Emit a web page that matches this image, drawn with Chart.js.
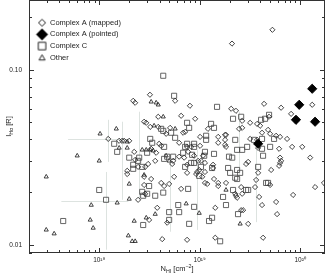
<!DOCTYPE html>
<html><head><meta charset="utf-8">
<script src="https://cdn.jsdelivr.net/npm/chart.js@4/dist/chart.umd.min.js"></script>
<style>html,body{margin:0;padding:0;background:#fff;}canvas{display:block;}</style>
</head><body>
<canvas id="c" width="326" height="275"></canvas>
<script>
const seriesNames = ['Complex A (mapped)', 'Complex A (pointed)', 'Complex C', 'Other'];

const complexAPointed = [[1.32e20,0.0779],[9.8e19,0.0631],[9.1e19,0.0518],[1.41e20,0.0505],[3.82e19,0.0378]];

const complexAMapped = [
[5.3e19,0.169],[2.1e19,0.141],[3.2e18,0.072],[5.7e18,0.0665],[8.0e18,0.0623],[2.06e19,0.0599],[2.3e19,0.0583],[4.38e19,0.0639],[6.47e19,0.0607],[8.14e19,0.056],[1.32e20,0.0631],[6.54e18,0.0546],[9.02e18,0.0525],[2.65e19,0.0511],[3.18e19,0.0498],[3.73e19,0.0491],[4.0e19,0.0479],[4.91e19,0.0539],[2.47e19,0.046],[2.65e19,0.0466],[4.18e19,0.0437],[4.8e19,0.0454],[5.03e19,0.0431],[5.77e19,0.042],[6.32e19,0.0414],[7.42e19,0.0403],[1.83e19,0.0425],[1.83e19,0.0363],[3.18e19,0.0403],[3.73e19,0.0398],[3.82e19,0.0358],[6.18e19,0.0354],[8.33e19,0.0363],[1.05e20,0.0363],[6.32e19,0.0315],[1.26e20,0.0315],[2.9e19,0.029],[3.04e19,0.0298],[6.47e19,0.0302],[6.32e19,0.0294],[6.18e19,0.0283],[3.82e19,0.0258],[5.15e19,0.0268],
[2.18e18,0.0665],[2.28e18,0.0648],[3.87e18,0.0539],[2.8e18,0.0505],[2.94e18,0.0498],[3.22e18,0.0472],[3.87e18,0.0472],[5.08e18,0.0466],[7.17e18,0.0442],[6.85e18,0.0437],[4.64e18,0.0431],[1.21e19,0.046],[1.01e19,0.0414],[1.53e19,0.0414],[1.79e19,0.0425],[1.79e19,0.0398],[1.79e19,0.0373],[1.53e19,0.0383],[3.95e18,0.0378],[4.14e18,0.0368],[6.25e18,0.0383],[7.5e18,0.0363],[8.23e18,0.0363],[1.01e19,0.0368],[3.29e18,0.0354],[1.99e18,0.0393],[3.69e18,0.0336],[7.68e18,0.034],[8.81e18,0.0323],[1.08e19,0.0323],[2.28e18,0.0306],[5.45e18,0.0302],[5.33e18,0.029],[6.25e18,0.0319],[7.01e18,0.0315],[9.66e18,0.0302],[1.03e19,0.0302],[1.13e19,0.0294],[9.9e18,0.0268],[9.44e18,0.0261],[1.13e19,0.0261],[1.36e19,0.0287],[1.36e19,0.0275],[3.61e18,0.0302],[3.07e18,0.029],[2.87e18,0.0279],
[1.23e18,0.0403],[1.58e18,0.0393],[1.69e18,0.0393],[1.77e18,0.0393],[2.23e18,0.034],[1.9e18,0.0265],[1.9e18,0.0254],[2.44e18,0.0279],[3.29e18,0.0238],[4.14e18,0.0226],[2.8e18,0.022],[2.87e18,0.0196],[2.44e18,0.0181],[3.78e18,0.0163],[3.14e18,0.0139],[4.24e18,0.0108],[2.8e18,0.0245],[4.75e18,0.0134],[7.5e18,0.0107],[1.43e19,0.0163],[1.43e19,0.011],[6.54e18,0.0209],[4.97e18,0.0223],[5.57e18,0.0245],[4.43e18,0.0217],[1.13e19,0.0226],[1.19e19,0.0223],[1.53e19,0.0226],[1.53e19,0.0217],[7.5e18,0.0258],[9.23e18,0.0254],[1.06e19,0.0245],[7.5e18,0.0287],[1.39e19,0.0238],
[1.73e20,0.0226],[1.41e20,0.0214],[8.52e19,0.0193],[5.77e19,0.0176],[5.9e19,0.015],[4.28e19,0.011],[4.18e19,0.0169],[3.91e19,0.0188],[3.56e19,0.0214],[3.65e19,0.0235],[5.03e19,0.022],[3.04e19,0.0132],[2.59e19,0.0158],[2.71e19,0.0158],[2.36e19,0.0186],[2.3e19,0.0191],[2.26e19,0.0196],[2.65e19,0.0196],[2.59e19,0.0214],[1.83e19,0.0226]
];

const complexC = [
[4.34e18,0.0924],[5.57e18,0.071],[1.49e19,0.0614],[2.15e19,0.0525],[2.59e19,0.0539],[1.3e19,0.0491],[4.09e19,0.0518],[4.48e19,0.0525],[4.91e19,0.0553],[2.26e19,0.0398],[3.48e19,0.0398],[4.18e19,0.0403],[5.51e19,0.0403],[2.97e19,0.0363],[2.65e19,0.0349],[2.36e19,0.0349],[4.18e19,0.0354],[5.03e19,0.0363],[1.96e19,0.0319],[2.11e19,0.0315],[4.28e19,0.0323],[3.82e19,0.0279],[2.01e19,0.0258],[2.53e19,0.0258],
[4.34e18,0.0448],[7.5e18,0.0498],[7.86e18,0.0466],[5.2e18,0.0437],[1.39e19,0.0466],[1.16e19,0.042],[1.16e19,0.0398],[5.7e18,0.0409],[3.22e18,0.0403],[3.37e18,0.0383],[4.43e18,0.0363],[7.5e18,0.0378],[7.17e18,0.0363],[8.81e18,0.0378],[8.81e18,0.0363],[3.0e18,0.0336],[6.85e18,0.0336],[8.41e18,0.0327],[1.39e19,0.0331],[1.13e19,0.034],[1.11e19,0.0323],[1.99e18,0.0315],[2.5e18,0.0315],[2.44e18,0.0302],[2.18e18,0.0287],[2.18e18,0.0272],[5.45e18,0.0319],[7.17e18,0.0279],[8.23e18,0.0294],[8.81e18,0.0294],[1.03e19,0.0279],[2.68e18,0.0279],[4.14e18,0.046],
[1.41e18,0.0378],[1.51e18,0.034],[3.14e18,0.0217],[2.68e18,0.0201],[2.74e18,0.0191],[3.61e18,0.0191],[1.0e18,0.0206],[1.17e18,0.0181],[2.74e18,0.013],[4.38e17,0.0137],[3.0e18,0.0196],[4.34e18,0.0199],[4.97e18,0.0154],[6.25e18,0.0154],[6.12e18,0.0169],[8.81e18,0.0165],[7.86e18,0.0132],[1.24e19,0.0137],[1.33e19,0.0143],[1.71e19,0.0188],[1.83e19,0.0169],[1.6e19,0.0105],[7.68e18,0.0209],[4.75e18,0.0319],[4.43e18,0.031],[9.9e18,0.0248],[1.33e19,0.0275],[1.92e19,0.0275],[2.36e19,0.0268],[2.26e19,0.0242],[4.97e18,0.0139],[4.59e19,0.0226],[4.8e19,0.0226],[2.9e19,0.0206],[3.04e19,0.0206],[2.15e19,0.0206],[2.36e19,0.0238],[2.41e19,0.015]
];

const other = [
[3.29e18,0.0656],[3.87e18,0.0631],[3.69e18,0.0648],[4.34e18,0.0539],[3.52e18,0.0479],[5.7e18,0.046],[1.48e18,0.046],[1.02e18,0.0431],[1.9e18,0.0388],[1.58e18,0.0358],[1.9e18,0.0358],[2.68e18,0.0349],[2.94e18,0.0349],[3.22e18,0.0349],[3.45e18,0.0345],[6.04e17,0.0323],[1.0e18,0.0302],[4.64e18,0.0323],[4.97e18,0.0302],[2.8e18,0.0251],[2.97e17,0.0245],[1.99e18,0.0223],[1.51e18,0.0174],[1.99e18,0.0183],[8.33e17,0.0169],[3.61e18,0.015],[2.94e18,0.0143],[2.23e18,0.0137],[8.14e17,0.0139],[2.97e17,0.0122],[3.56e17,0.0116],[8.71e17,0.0125],[1.95e18,0.0113],[2.13e18,0.0105],[2.28e18,0.0105],[7.34e18,0.0172],[9.9e18,0.0152],[2.53e19,0.0132],[1.83e19,0.0206]
];

// error bars: horizontal [y, xLow, xHigh], vertical [x, yLow, yHigh]
const errorBarsH = [[0.0403,4.9e17,2.0e18],[0.0178,4.2e17,1.95e18]];
const errorBarsV = [[1.23e18,0.0298,0.0518],[1.69e18,0.0181,0.0505],[1.17e18,0.0094,0.0261],[2.5e18,0.0181,0.0576],[5.08e18,0.0119,0.0327],[9.44e18,0.0122,0.0349],[2.47e19,0.0242,0.0576],[3.65e19,0.0135,0.0349]];

const xTickValues = [1e18, 1e19, 1e20];
const xTickLabels = ['10¹⁸', '10¹⁹', '10²⁰'];
const yTickValues = [0.01, 0.1];
const yTickLabels = ['0.01', '0.10'];

const FONT = "'Liberation Sans', Arial, Helvetica, sans-serif";
const INK = '#222';

function toPts(a){ return a.map(p => ({x:p[0], y:p[1]})); }

function marker(kind, size, filled){
  const S = Math.ceil(size) + 3;
  const cv = document.createElement('canvas'); cv.width = S; cv.height = S;
  const g = cv.getContext('2d'); const c = S/2; const h = size/2;
  g.strokeStyle = INK; g.fillStyle = '#000'; g.lineWidth = 1;
  g.beginPath();
  if (kind === 'diamond'){ g.moveTo(c-h,c); g.lineTo(c,c-h); g.lineTo(c+h,c); g.lineTo(c,c+h); g.closePath(); }
  else if (kind === 'square'){ g.rect(c-h,c-h,size,size); }
  else { g.moveTo(c,c-h); g.lineTo(c+h,c+h*0.75); g.lineTo(c-h,c+h*0.75); g.closePath(); }
  if (filled) g.fill(); else g.stroke();
  return cv;
}
const legendMarkers = [marker('diamond',7,false), marker('diamond',12,true), marker('square',7.5,false), marker('triangle',6,false)];

const framePlugin = {
  id:'frame',
  afterDraw(chart){
    const ctx = chart.ctx, xs = chart.scales.x, ys = chart.scales.y;
    const {left,right,top,bottom} = chart.chartArea;
    ctx.save();
    ctx.strokeStyle = '#333'; ctx.lineWidth = 1;
    ctx.strokeRect(left+0.5, top+0.5, right-left-1, bottom-top-1);
    ctx.beginPath();
    for (let k=17;k<=20;k++) for (let m=1;m<=9;m++){
      const v = m*Math.pow(10,k); if (v < xs.min || v > xs.max) continue;
      const px = Math.round(xs.getPixelForValue(v)) + 0.5; const L = m===1?5:3;
      ctx.moveTo(px,bottom); ctx.lineTo(px,bottom-L);
      ctx.moveTo(px,top); ctx.lineTo(px,top+L);
    }
    for (let k=-3;k<=0;k++) for (let m=1;m<=9;m++){
      const v = m*Math.pow(10,k); if (v < ys.min || v > ys.max) continue;
      const py = Math.round(ys.getPixelForValue(v)) + 0.5; const L = m===1?5:3;
      ctx.moveTo(left,py); ctx.lineTo(left+L,py);
      ctx.moveTo(right,py); ctx.lineTo(right-L,py);
    }
    ctx.stroke();
    ctx.fillStyle = INK; ctx.textBaseline = 'alphabetic'; ctx.textAlign = 'left';
    drawRich(ctx, [{t:'N',s:7.5},{t:'HI',s:5.3,dy:2},{t:' [cm',s:7.5},{t:'−2',s:5.3,dy:-3},{t:']',s:7.5}], (left+right)/2, 271);
    ctx.save(); ctx.translate(10.5,(top+bottom)/2); ctx.rotate(-Math.PI/2);
    drawRich(ctx, [{t:'I',s:7.5},{t:'Hα',s:5.3,dy:2},{t:' [R]',s:7.5}], 0, 0);
    ctx.restore();
    ctx.restore();
  }
};
function drawRich(ctx, parts, x, y){
  let w = 0;
  parts.forEach(p => { ctx.font = p.s+'px '+FONT; p.w = ctx.measureText(p.t).width; w += p.w; });
  let cx = x - w/2;
  parts.forEach(p => { ctx.font = p.s+'px '+FONT; ctx.fillText(p.t, cx, y+(p.dy||0)); cx += p.w; });
}

const errorBarPlugin = {
  id:'errbars',
  beforeDatasetsDraw(chart){
    const ctx = chart.ctx, xs = chart.scales.x, ys = chart.scales.y;
    ctx.save(); ctx.strokeStyle = '#dde3e0'; ctx.lineWidth = 1; ctx.beginPath();
    errorBarsH.forEach(([y,x0,x1]) => { const py = Math.round(ys.getPixelForValue(y))+0.5; ctx.moveTo(xs.getPixelForValue(x0),py); ctx.lineTo(xs.getPixelForValue(x1),py); });
    errorBarsV.forEach(([x,y0,y1]) => { const px = Math.round(xs.getPixelForValue(x))+0.5; ctx.moveTo(px,ys.getPixelForValue(y0)); ctx.lineTo(px,ys.getPixelForValue(y1)); });
    ctx.stroke(); ctx.restore();
  }
};

const legendPlace = {
  id:'legendPlace',
  afterLayout(chart){
    const lg = chart.legend; if (!lg) return;
    lg.left = 33.6; lg.top = 14.8; lg.bottom = 253; lg.right = 325;
  }
};

new Chart(document.getElementById('c'), {
  type:'scatter',
  data:{ datasets:[
    {label:seriesNames[1], data:toPts(complexAPointed), pointStyle:'rectRot', pointRadius:4.6, pointHoverRadius:4.6, backgroundColor:'#000', borderColor:'#000', borderWidth:1},
    {label:seriesNames[0], data:toPts(complexAMapped), pointStyle:'rectRot', pointRadius:2.6, pointHoverRadius:2.6, backgroundColor:'rgba(0,0,0,0)', borderColor:INK, borderWidth:0.85},
    {label:seriesNames[2], data:toPts(complexC), pointStyle:'rect', pointRadius:3.6, pointHoverRadius:3.6, backgroundColor:'rgba(0,0,0,0)', borderColor:'#4a4a4a', borderWidth:0.85},
    {label:seriesNames[3], data:toPts(other), pointStyle:'triangle', pointRadius:2.4, pointHoverRadius:2.4, backgroundColor:'rgba(0,0,0,0)', borderColor:INK, borderWidth:0.85}
  ]},
  options:{
    responsive:false, animation:false, devicePixelRatio:1,
    layout:{autoPadding:false, padding:{left:0,right:1,top:0,bottom:0}},
    plugins:{
      tooltip:{enabled:false},
      legend:{
        position:'chartArea', align:'start',
        labels:{
          usePointStyle:true, pointStyleWidth:8.5, padding:4.17, color:INK,
          font:{size:7.5, family:FONT},
          generateLabels:(chart) => seriesNames.map((name,i) => ({
            text:name, datasetIndex:chart.data.datasets.findIndex(d => d.label === name),
            pointStyle:legendMarkers[i], fillStyle:'#000', strokeStyle:'#000', lineWidth:1, hidden:false, fontColor:INK
          }))
        }
      }
    },
    scales:{
      x:{
        type:'logarithmic', min:2e17, max:1.77e20,
        grid:{display:false, drawTicks:false}, border:{display:false},
        afterBuildTicks:(s) => { s.ticks = xTickValues.map(v => ({value:v})); },
        afterFit:(s) => { s.height = 22; s.paddingLeft = 0; s.paddingRight = 0; s.paddingTop = 0; s.paddingBottom = 0; },
        ticks:{autoSkip:false, maxRotation:0, padding:3, color:INK, font:{size:6.5, family:FONT},
          callback:(v) => { const i = xTickValues.indexOf(v); return i >= 0 ? xTickLabels[i] : ''; }}
      },
      y:{
        type:'logarithmic', min:0.009, max:0.25,
        grid:{display:false, drawTicks:false}, border:{display:false},
        afterBuildTicks:(s) => { s.ticks = yTickValues.map(v => ({value:v})); },
        afterFit:(s) => { s.width = 29; s.paddingLeft = 0; s.paddingRight = 0; s.paddingTop = 0; s.paddingBottom = 0; },
        ticks:{autoSkip:false, padding:7, color:INK, font:{size:6.5, family:FONT},
          callback:(v) => { const i = yTickValues.indexOf(v); return i >= 0 ? yTickLabels[i] : ''; }}
      }
    }
  },
  plugins:[errorBarPlugin, framePlugin, legendPlace]
});
</script>
</body></html>
